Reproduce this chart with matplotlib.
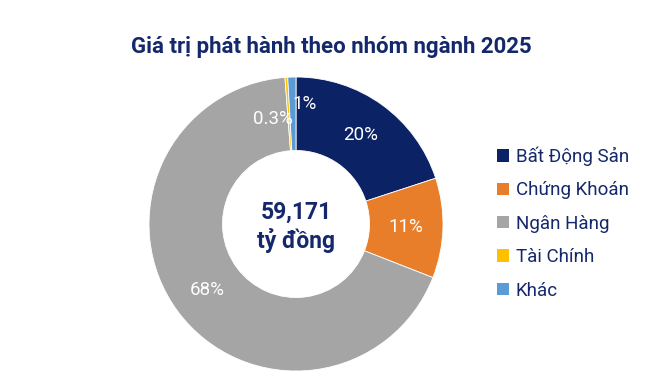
import matplotlib.pyplot as plt
import numpy as np
from matplotlib.patches import Patch

plt.rcParams['font.family'] = ['Roboto', 'DejaVu Sans']

# data
sectors = ['Bất Động Sản', 'Chứng Khoán', 'Ngân Hàng', 'Tài Chính', 'Khác']
shares = [20, 11, 68, 0.3, 0.9]
pct_labels = ['20%', '11%', '68%', '0.3%', '1%']
colors = ['#0B2265', '#E87E2A', '#A5A5A5', '#FFC000', '#5B9BD5']
navy = '#14286B'

fig = plt.figure(figsize=(6.69, 3.84), dpi=100)
ax = fig.add_axes([149 / 669, 13 / 384, 294 / 669, 294 / 384])

wedges, _ = ax.pie(shares, colors=colors, startangle=90, counterclock=False,
                   radius=1, wedgeprops=dict(width=0.5, edgecolor='white', linewidth=0.6))
ax.set_xlim(-1, 1)
ax.set_ylim(-1, 1)
ax.set_aspect('equal')
ax.axis('off')

# percent labels, small slices nudged by hand
nudge = {3: (-0.11, -0.035), 4: (0.08, 0.07)}
for i, w in enumerate(wedges):
    ang = np.deg2rad((w.theta1 + w.theta2) / 2)
    x, y = 0.75 * np.cos(ang), 0.75 * np.sin(ang)
    dx, dy = nudge.get(i, (0, 0))
    ax.text(x + dx, y + dy, pct_labels[i], ha='center', va='center',
            color='white', fontsize=13.5)

ax.text(0, 0.08, '59,171', ha='center', va='center', fontsize=16.5,
        fontweight='bold', color=navy)
ax.text(0, -0.11, 'tỷ đồng', ha='center', va='center', fontsize=16.5,
        fontweight='bold', color=navy)

fig.text(331 / 669, 1 - 47 / 384, 'Giá trị phát hành theo nhóm ngành 2025',
         ha='center', va='center', fontsize=16, fontweight='bold', color=navy)

handles = [Patch(facecolor=c, edgecolor='none') for c in colors]
leg = fig.legend(handles, sectors, loc='center left', bbox_to_anchor=(480 / 669, 1 - 223 / 384),
                 frameon=False, fontsize=13.5, handlelength=0.65, handleheight=0.65,
                 handletextpad=0.35, labelspacing=0.82, labelcolor=navy)

fig.savefig('out.png', dpi=100)
